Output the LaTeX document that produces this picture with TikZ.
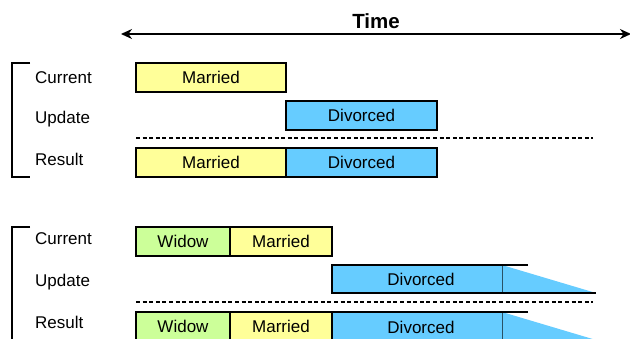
\documentclass[tikz,border=0pt]{standalone}
\usepackage{fontspec}
\setmainfont{Liberation Sans}
\usetikzlibrary{arrows.meta,positioning}

\definecolor{marriedfill}{RGB}{255,255,153}
\definecolor{divorcedfill}{RGB}{102,204,255}
\definecolor{widowfill}{RGB}{204,255,153}

\tikzstyle{bar} = [draw, line width=1.6pt, minimum height=29pt, inner sep=0pt, outer sep=0pt, font=\fontsize{17}{20}\selectfont]
\tikzstyle{married} = [bar, fill=marriedfill]
\tikzstyle{divorced} = [bar, fill=divorcedfill]
\tikzstyle{widow} = [bar, fill=widowfill]
\tikzstyle{txt} = [inner sep=0pt, font=\fontsize{17}{20}\selectfont]
\tikzstyle{lbl} = [anchor=base west, inner sep=0pt, font=\fontsize{17}{20}\selectfont]
\tikzstyle{bracket} = [line width=1.8pt]
\tikzstyle{sep} = [line width=1.6pt, dash pattern=on 4pt off 2.6pt]

\begin{document}
\begin{tikzpicture}[x=1pt,y=-1pt]
\useasboundingbox (0,0) rectangle (630,338);
\clip (0,0) rectangle (630,338);

% time axis
\coordinate (tl) at (121,34);
\coordinate (tr) at (631,34);
\draw[line width=2.6pt, {Stealth[length=11pt,width=10pt]}-{Stealth[length=11pt,width=10pt]}] (tl) -- (tr);
\node[font=\bfseries\fontsize{20.5}{24}\selectfont] (time) at (376,21) {Time};

% first case
\draw[bracket] (30,63) -- (12,63) -- (12,177) -- (30,177);
\node[lbl] (cur1) at (35,83) {Current};
\node[lbl] (upd1) at (35,123) {Update};
\node[lbl] (res1) at (35,165) {Result};

\node[married, minimum width=150pt, anchor=north west] (cur1m) at (136,63) {Married};
\node[divorced, minimum width=151pt, anchor=north west] (upd1d) at (286,101) {Divorced};
\coordinate (d1a) at (136,138);
\coordinate (d1b) at (593,138);
\draw[sep] (d1a) -- (d1b);
\node[married, minimum width=150pt, anchor=north west] (res1m) at (136,148) {Married};
\node[divorced, minimum width=151pt, right=0pt of res1m] (res1d) {Divorced};

% second case
\draw[bracket] (30,227) -- (12,227) -- (12,341) -- (30,341);
\node[lbl] (cur2) at (35,244) {Current};
\node[lbl] (upd2) at (35,286) {Update};
\node[lbl] (res2) at (35,328) {Result};

\node[widow, minimum width=94pt, anchor=north west] (cur2w) at (136,227) {Widow};
\node[married, minimum width=102pt, right=0pt of cur2w] (cur2m) {Married};

\fill[divorcedfill] (332,265) -- (502,265) -- (596,293) -- (332,293) -- cycle;
\draw[line width=0.4pt, black!60!divorcedfill] (502,265) -- (502,293);
\draw[line width=1.6pt] (528,265) -- (332,265) -- (332,293) -- (596,293);
\node[txt] (upd2d) at (421,279) {Divorced};

\coordinate (d2a) at (136,302);
\coordinate (d2b) at (593,302);
\draw[sep] (d2a) -- (d2b);

\fill[divorcedfill] (332,312) -- (502,312) -- (596,340) -- (332,340) -- cycle;
\draw[line width=0.4pt, black!60!divorcedfill] (502,312) -- (502,340);
\draw[line width=1.6pt] (528,312) -- (332,312) -- (332,340);
\node[txt] (res2d) at (421,327) {Divorced};
\node[widow, minimum width=94pt, anchor=north west] (res2w) at (136,312) {Widow};
\node[married, minimum width=102pt, right=0pt of res2w] (res2m) {Married};
\end{tikzpicture}
\end{document}
